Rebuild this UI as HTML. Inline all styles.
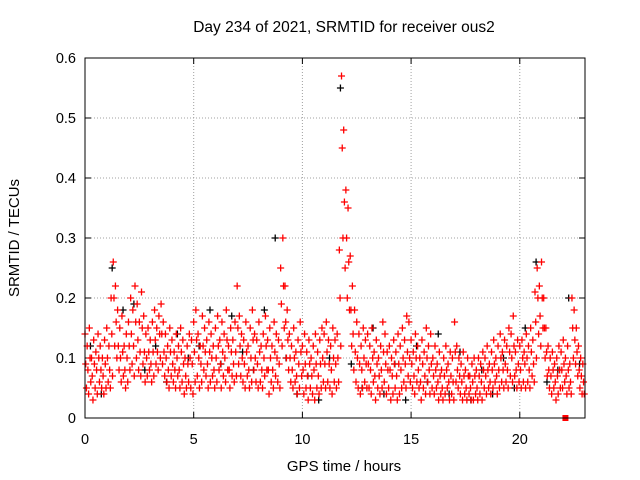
<!DOCTYPE html>
<html><head><meta charset="utf-8"><style>
body{margin:0;background:#fff}
svg{display:block;font-family:"Liberation Sans",sans-serif}
</style></head><body>
<svg id="chart" width="640" height="480" viewBox="0 0 640 480" xmlns="http://www.w3.org/2000/svg">
<rect width="640" height="480" fill="#fff"/>
<text x="344" y="32" font-size="15.5" text-anchor="middle">Day 234 of 2021, SRMTID for receiver ous2</text>
<text transform="translate(19,238) rotate(-90)" font-size="15" text-anchor="middle">SRMTID / TECUs</text>
<text x="344" y="471" font-size="15" text-anchor="middle">GPS time / hours</text>
<g id="grid"></g><g id="ticks"></g><g id="black"></g><g id="red"></g>
<rect x="85" y="58" width="500" height="360" fill="none" stroke="#000" stroke-width="1"/>
</svg>
<script>
const xTicks=[0,5,10,15,20];
const yTicks=[0,0.1,0.2,0.3,0.4,0.5,0.6];
const redHi=[14,12,15,10,13,11,14,12,10,13,15,12,20,26,22,18,15,17,12,14,16,20,18,22,19,16,21,17,14,15,13,16,18,15,17,19,16,14,12,15,13,11,14,12,15,13,10,12,14,13,16,18,14,12,17,15,13,16,14,12,15,17,13,16,14,18,12,15,13,16,22,17,14,13,16,12,15,18,14,13,16,12,14,17,13,15,12,16,14,13,25,30,22,18,14,12,15,11,13,16,12,14,11,13,10,12,14,11,13,15,14,16,13,12,15,13,14,28,57,48,38,35,27,22,18,16,14,12,15,13,14,12,15,11,13,10,12,16,14,11,12,10,13,11,14,12,15,13,17,16,13,11,14,12,10,13,11,15,12,14,10,12,9,11,8,10,12,9,11,10,16,12,10,9,11,8,10,7,9,10,8,10,9,11,10,12,9,11,13,10,12,14,11,13,12,15,14,17,11,13,12,13,11,14,12,15,13,21,25,22,26,20,15,12,10,11,9,10,12,11,13,10,12,9,20,18,15,12,10,9];
const redMid=[9,8,10,7,9,8,10,8,7,9,10,8,14,20,16,12,10,11,8,10,12,14,12,16,13,11,15,11,10,11,9,11,13,11,14,14,11,10,8,11,9,8,10,8,11,9,7,9,10,9,11,13,10,9,12,11,9,11,10,8,10,12,9,11,10,13,8,11,9,11,15,12,10,9,11,8,10,13,10,9,11,8,10,12,8,10,8,11,10,9,19,22,16,13,10,8,10,7,9,11,8,9,7,9,7,8,9,7,9,10,9,11,9,8,10,9,10,20,45,36,30,26,18,14,11,10,9,8,10,9,9,8,10,7,9,7,8,11,9,8,8,7,9,7,9,8,10,9,11,10,9,7,10,8,6,9,7,10,8,9,7,8,6,7,5,7,8,6,7,6,11,8,7,6,7,5,7,5,6,7,5,7,6,8,7,8,6,8,9,7,8,10,8,9,8,11,10,12,8,9,8,10,9,10,8,11,9,16,20,17,20,15,11,8,7,8,6,7,8,8,9,7,8,6,15,13,11,8,7,6];
const redLo=[5,4,6,3,5,4,6,5,4,5,6,5,7,12,10,8,6,7,5,6,8,9,7,10,8,7,9,6,7,8,6,7,9,8,10,9,7,6,5,7,6,5,7,5,6,4,5,6,5,4,6,7,5,6,8,7,5,6,7,5,6,8,5,7,6,8,5,7,6,7,9,7,6,5,7,5,6,8,6,5,6,5,7,8,4,6,5,7,6,5,12,15,10,8,6,5,6,4,5,7,4,5,3,5,4,3,5,4,5,6,5,6,5,4,6,5,6,12,30,25,20,18,12,8,6,5,4,5,6,5,5,4,6,3,5,4,5,6,4,5,3,4,5,3,4,5,6,5,7,6,5,4,6,5,3,5,4,6,4,5,4,5,3,4,3,4,5,3,4,3,6,5,4,3,4,3,4,3,3,4,3,4,3,5,4,5,4,5,6,4,5,6,5,6,5,7,6,7,5,6,5,6,5,6,5,7,6,10,14,12,15,10,7,5,4,5,3,4,5,5,6,4,5,4,10,9,7,5,4,4];
const blackVals=[12,4,25,18,19,8,12,6,14,10,12,18,9,17,11,8,18,30,10,4,7,3,10,55,9,5,15,4,9,3,12,6,14,4,11,3,8,4,10,5,15,26,6,8,20,9];
const NS="http://www.w3.org/2000/svg";
const X0=85,X1=585,Y0=418,Y1=58;
function xs(h){return X0+(h/23)*(X1-X0);}
function ys(v){return Y0-(v/0.6)*(Y0-Y1);}
function mk(t,a,p){const e=document.createElementNS(NS,t);for(const k in a)e.setAttribute(k,a[k]);p.appendChild(e);return e;}
const grid=document.getElementById('grid'),ticks=document.getElementById('ticks');
yTicks.forEach(v=>{const y=ys(v);
 if(v>0){const g=mk('line',{x1:X0,x2:X1,y1:y,y2:y,stroke:'#a0a0a0','stroke-dasharray':'1,2'},grid);
 
 }
 mk('line',{x1:X0,x2:X0+6,y1:y,y2:y,stroke:'#000'},ticks);mk('line',{x1:X1-6,x2:X1,y1:y,y2:y,stroke:'#000'},ticks);
 const t=mk('text',{x:76,y:y+5,'font-size':14.5,'text-anchor':'end'},ticks);t.textContent=v===0?'0':v.toFixed(1);
 
 });
xTicks.forEach(h=>{const x=xs(h);
 if(h>0){const g=mk('line',{x1:x,x2:x,y1:Y0,y2:Y1,stroke:'#a0a0a0','stroke-dasharray':'1,2'},grid);
 
 }
 mk('line',{x1:x,x2:x,y1:Y0,y2:Y0-6,stroke:'#000'},ticks);mk('line',{x1:x,x2:x,y1:Y1,y2:Y1+6,stroke:'#000'},ticks);
 const t=mk('text',{x:x,y:444,'font-size':14.5,'text-anchor':'middle'},ticks);t.textContent=h;
 
 });
function plus(p,h,v,c,name){const x=xs(h),y=ys(v);
 const e=mk('path',{d:`M${x-3.5} ${y}H${x+3.5}M${x} ${y-3.5}V${y+3.5}`,stroke:c,'stroke-width':1.3,fill:'none'},p);
 
 }
const bl=document.getElementById('black'),rd=document.getElementById('red');
blackVals.forEach((v,i)=>plus(bl,i*0.5+0.25,v/100,'#000','black-point'));
[redHi,redMid,redLo].forEach((arr,k)=>arr.forEach((v,i)=>plus(rd,i*0.1+k*0.033,v/100,'#f00','red-point')));
const sq=mk('rect',{x:xs(22.1)-3,y:ys(0)-3,width:6,height:6,fill:'#f00'},rd);


</script>
</body></html>
